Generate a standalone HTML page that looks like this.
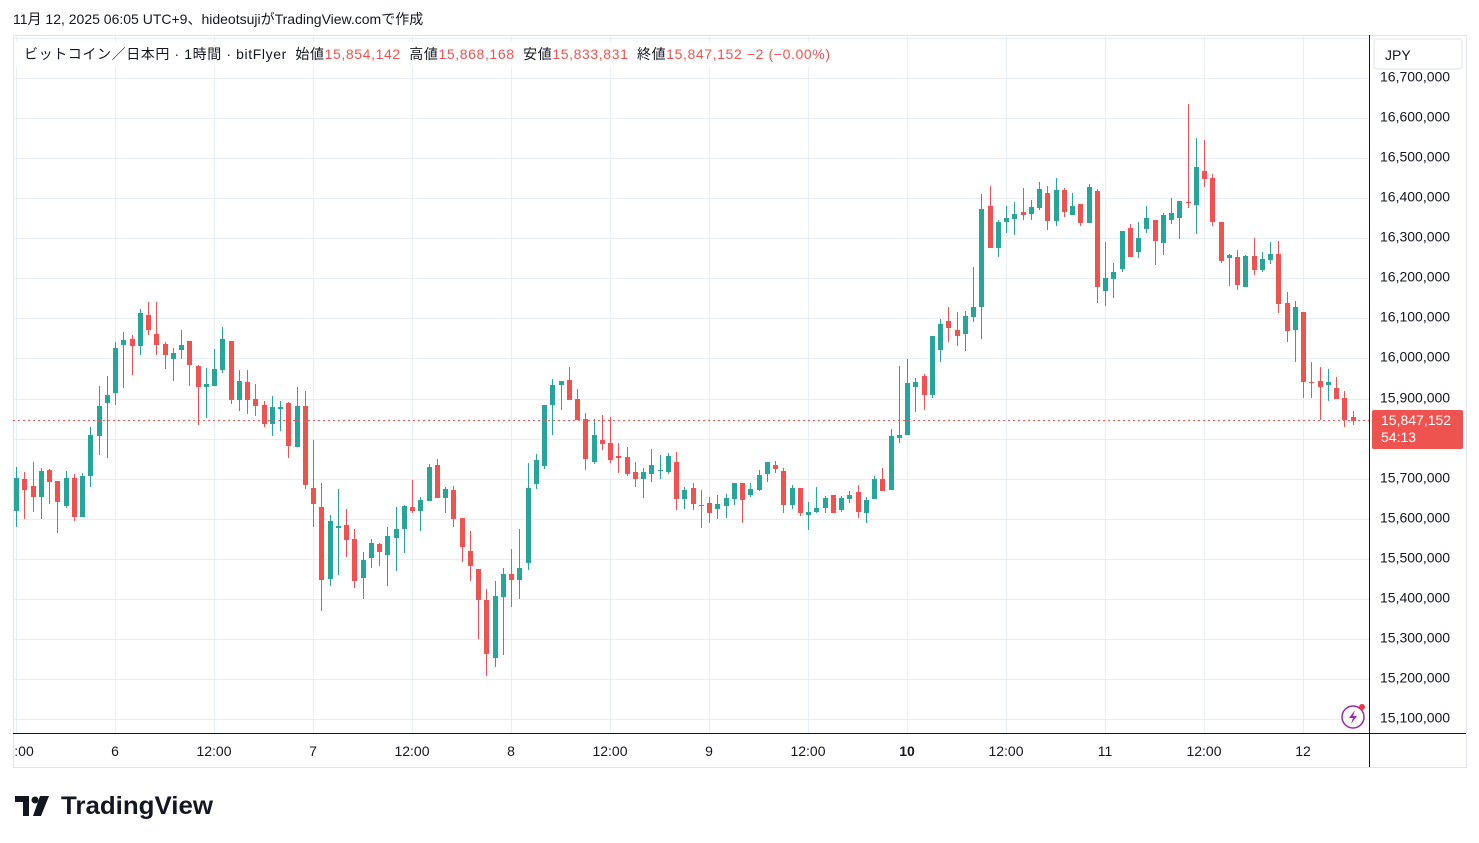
<!DOCTYPE html>
<html><head><meta charset="utf-8"><style>
body{margin:0;background:#fff;width:1479px;height:843px;overflow:hidden;font-family:"Liberation Sans","Noto Sans CJK JP",sans-serif;}
svg{position:absolute;left:0;top:0}
</style></head><body>
<svg id="s" width="1479" height="843" xmlns="http://www.w3.org/2000/svg" font-family="Liberation Sans, Noto Sans CJK JP, sans-serif">
<text x="13" y="24" font-size="14" fill="#131722">11月 12, 2025 06:05 UTC+9、hideotsujiがTradingView.comで作成</text>
<rect x="13.5" y="35.5" width="1453" height="732" fill="none" stroke="#e0e3eb"/>
<g id="grid" stroke="#e8eef4" stroke-width="1"></g>
<g id="c"></g>
<line x1="13" y1="420.5" x2="1369" y2="420.5" stroke="#ef5350" stroke-dasharray="2,3"/>
<line x1="1369.5" y1="35" x2="1369.5" y2="767" stroke="#131722"/>
<line x1="13" y1="733.5" x2="1466" y2="733.5" stroke="#131722"/>
<g id="yl" font-size="14" fill="#131722"></g>
<g font-size="14" fill="#131722" text-anchor="middle">
<text x="24" y="756">:00</text><text x="115" y="756">6</text><text x="214" y="756">12:00</text>
<text x="313" y="756">7</text><text x="412" y="756">12:00</text><text x="511" y="756">8</text>
<text x="610" y="756">12:00</text><text x="709" y="756">9</text><text x="808" y="756">12:00</text>
<text x="907" y="756" font-weight="bold">10</text><text x="1006" y="756">12:00</text><text x="1105" y="756">11</text>
<text x="1204" y="756">12:00</text><text x="1303" y="756">12</text>
</g>
<rect x="1374" y="39" width="88" height="30" rx="3" fill="#fff" stroke="#e0e3eb"/>
<text x="1385" y="60" font-size="14" fill="#131722">JPY</text>
<rect x="1372" y="410" width="91" height="39" rx="2" fill="#ef5350"/>
<text x="1381" y="425" font-size="14" fill="#fff">15,847,152</text>
<text x="1381" y="442" font-size="14" fill="#fff">54:13</text>
<rect x="16" y="42" width="820" height="24" fill="#fff" opacity="0.9"/>
<text x="24" y="59" font-size="14" textLength="806" lengthAdjust="spacing"><tspan fill="#131722">ビットコイン／日本円 · 1時間 · bitFlyer  </tspan><tspan fill="#131722" dx="4">始値</tspan><tspan fill="#ef5350">15,854,142 </tspan><tspan fill="#131722" dx="4">高値</tspan><tspan fill="#ef5350">15,868,168 </tspan><tspan fill="#131722" dx="4">安値</tspan><tspan fill="#ef5350">15,833,831 </tspan><tspan fill="#131722" dx="4">終値</tspan><tspan fill="#ef5350">15,847,152  −2 (−0.00%)</tspan></text>
<circle cx="1353" cy="717" r="11" fill="#fff" stroke="#9c27b0" stroke-width="1.5"/>
<path d="M1355 710 L1349 718 L1353 718 L1351 724 L1357 716 L1353 716 Z" fill="#9c27b0"/>
<circle cx="1362" cy="707" r="3" fill="#f23645"/>
<g fill="#131722">
<path d="M15 796 h14 v20 h-6 v-14 h-8 z"/><circle cx="35" cy="800" r="3.5"/><path d="M40 796 h9 l-8 20 h-8 z"/>
</g>
<text x="61" y="814" font-size="25" font-weight="bold" fill="#131722" textLength="152" lengthAdjust="spacingAndGlyphs">TradingView</text>
</svg>
<script>
var NS="http://www.w3.org/2000/svg";
var g=document.getElementById('grid'),yl=document.getElementById('yl'),cg=document.getElementById('c');
function el(t,a,p){var e=document.createElementNS(NS,t);for(var k in a)e.setAttribute(k,a[k]);p.appendChild(e);return e;}
for(var k=0;k<14;k++){var x=16+99*k+0.5;el('line',{x1:x,y1:36,x2:x,y2:733},g);}
for(var p=151;p<=168;p++){var y=Math.round(318.3-(p-161)*40.1)+0.5;if(y<37||y>733)continue;el('line',{x1:13,y1:y,x2:1369,y2:y},g);
 if(p<=167){var t=el('text',{x:1380,y:y+3},yl);t.textContent=(p/10).toFixed(1).replace('.',',')+"00,000";}}
var D=[
[478,511,467,527,'g'],[479,490,472,519,'r'],[486,497,462,512,'r'],[471,497,468,519,'g'],[470,482,469,504,'r'],
[481,502,481,533,'r'],[478,506,471,508,'g'],[478,517,474,521,'r'],[476,517,473,517,'g'],[435,476,427,487,'g'],
[406,436,386,455,'g'],[395,403,376,458,'g'],[348,393,342,405,'g'],[340,345,332,388,'g'],[339,346,335,375,'r'],
[313,346,309,355,'g'],[315,330,302,335,'r'],[334,345,302,355,'r'],[344,355,342,369,'r'],[353,359,348,381,'g'],
[345,350,330,359,'g'],[341,365,341,386,'r'],[366,387,365,425,'r'],[384,387,368,418,'g'],[369,386,349,386,'g'],
[339,370,327,373,'g'],[341,400,341,404,'r'],[381,400,370,411,'g'],[382,400,370,414,'r'],[399,406,384,416,'r'],
[405,424,401,427,'r'],[407,424,396,436,'g'],[407,409,401,431,'g'],[403,446,402,458,'r'],[406,447,387,447,'g'],
[406,485,391,489,'r'],[488,504,440,527,'r'],[507,580,483,611,'r'],[521,579,515,586,'g'],[526,528,489,575,'g'],
[525,540,509,557,'r'],[539,581,529,588,'r'],[560,578,552,599,'g'],[543,558,539,568,'g'],[544,552,543,566,'r'],
[536,555,527,586,'g'],[529,538,507,571,'g'],[506,529,505,553,'g'],[507,511,480,513,'r'],[500,511,497,531,'g'],
[467,501,464,501,'g'],[465,498,459,498,'r'],[489,498,487,513,'g'],[490,519,486,527,'r'],[518,547,518,562,'r'],
[551,566,531,581,'r'],[569,600,569,639,'r'],[600,654,589,676,'r'],[596,658,581,667,'g'],[574,597,568,655,'g'],
[574,580,549,607,'r'],[568,580,529,599,'g'],[488,563,463,570,'g'],[460,484,454,489,'g'],[405,466,405,469,'g'],
[385,405,379,435,'g'],[381,385,381,410,'g'],[380,400,367,400,'r'],[399,420,389,420,'r'],[419,459,413,470,'r'],
[435,462,419,464,'g'],[440,444,415,450,'r'],[443,460,417,463,'r'],[456,458,443,473,'r'],[457,474,447,476,'r'],
[472,479,462,487,'r'],[472,479,468,498,'g'],[465,474,449,482,'g'],[470,471,455,479,'g'],[456,472,453,474,'g'],
[462,499,452,510,'r'],[490,499,487,509,'g'],[488,504,483,510,'r'],[505,506,490,528,'r'],[503,513,497,523,'r'],
[504,509,495,519,'g'],[498,506,494,518,'g'],[483,499,483,505,'g'],[483,500,483,523,'r'],[489,495,483,497,'g'],
[475,490,470,491,'g'],[462,474,462,482,'g'],[465,469,461,473,'r'],[471,505,468,513,'r'],[488,505,485,509,'g'],
[488,513,488,516,'r'],[512,515,502,530,'g'],[508,512,487,513,'g'],[498,508,496,513,'g'],[495,513,495,513,'r'],
[498,510,496,512,'g'],[495,499,491,503,'g'],[492,512,485,518,'r'],[500,513,497,523,'g'],[479,499,476,499,'g'],
[479,491,468,491,'r'],[436,490,429,490,'g'],[435,438,366,443,'g'],[383,435,359,435,'g'],[382,387,378,412,'g'],
[376,395,374,410,'r'],[336,395,336,398,'g'],[324,350,319,362,'g'],[321,328,307,342,'r'],[330,336,312,346,'r'],
[316,334,311,351,'g'],[307,317,267,322,'g'],[209,307,194,339,'g'],[206,248,186,248,'r'],[222,248,220,257,'g'],
[218,222,206,233,'g'],[214,219,202,235,'g'],[212,215,188,220,'r'],[207,214,200,220,'g'],[189,208,182,210,'g'],
[193,221,186,230,'r'],[190,221,178,226,'g'],[190,212,188,217,'r'],[206,215,193,215,'g'],[204,223,204,226,'r'],
[187,223,184,223,'g'],[191,287,189,303,'r'],[278,291,242,306,'g'],[272,279,263,298,'g'],[231,269,231,272,'g'],
[228,257,224,257,'r'],[238,252,222,258,'g'],[218,229,206,233,'g'],[220,241,220,265,'r'],[215,243,213,255,'g'],
[213,220,198,224,'g'],[201,218,201,239,'g'],[202,203,104,208,'r'],[167,205,138,234,'g'],[171,179,140,187,'r'],
[178,222,174,226,'r'],[222,261,222,263,'r'],[255,258,254,286,'g'],[257,285,250,290,'r'],[256,287,255,287,'g'],
[256,270,238,275,'r'],[259,270,252,272,'g'],[254,260,242,264,'g'],[254,304,241,313,'r'],[303,331,292,342,'r'],
[307,330,301,362,'g'],[312,382,312,398,'r'],[382,383,362,398,'r'],[381,387,367,420,'r'],[382,385,369,401,'g'],
[388,399,377,399,'r'],[398,420,391,427,'r'],[417,421,411,425,'r']];
for(var i=0;i<D.length;i++){var d=D[i],x=16+i*8.25,c=d[4]=='g'?'#26a69a':'#ef5350';
 var cx=Math.round(x);
 el('rect',{x:cx,y:d[2],width:1,height:Math.max(1,d[3]-d[2]),fill:c},cg);
 el('rect',{x:cx-2,y:d[0],width:5,height:Math.max(1,d[1]-d[0]),fill:c},cg);}
</script>
</body></html>
